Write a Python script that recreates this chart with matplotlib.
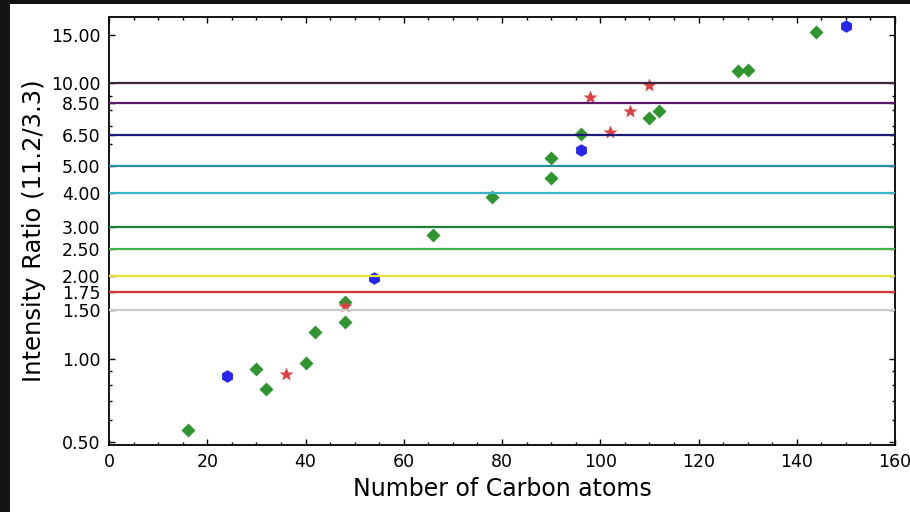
import matplotlib
matplotlib.use("Agg")
import matplotlib.pyplot as plt
from matplotlib.ticker import FormatStrFormatter, LogLocator, NullFormatter, MultipleLocator
from matplotlib.patches import Rectangle

# green diamonds
diamond_x = [16, 30, 32, 40, 42, 48, 48, 66, 78, 90, 90, 96, 110, 112, 128, 130, 144]
diamond_y = [0.55, 0.92, 0.775, 0.967, 1.25, 1.61, 1.36, 2.82, 3.86, 5.37, 4.52, 6.56, 7.47, 7.96, 11.1, 11.2, 15.3]

# blue hexagons
hex_x = [24, 54, 96, 150]
hex_y = [0.865, 1.97, 5.71, 16.1]

# red stars
star_x = [36, 48, 98, 102, 106, 110]
star_y = [0.88, 1.55, 8.9, 6.66, 7.96, 9.84]

# horizontal reference levels
levels = [1.5, 1.75, 2.0, 2.5, 3.0, 4.0, 5.0, 6.5, 8.5, 10.0]
level_colors = ['#cccccc', '#d83434', '#e6e23a', '#44b444', '#1f7f3a',
                '#3cb4c8', '#2a8c9c', '#1c1c78', '#5e1a6a', '#3e2840']

yticks = [0.5, 1.0, 1.5, 1.75, 2.0, 2.5, 3.0, 4.0, 5.0, 6.5, 8.5, 10.0, 15.0]

fig = plt.figure(figsize=(9.1, 5.12), dpi=100, facecolor='#141414')
# white page area (dark strips at top and left like the screenshot)
fig.patches.append(Rectangle((10 / 910, 0), 1, (512 - 4) / 512, transform=fig.transFigure,
                             facecolor='white', edgecolor='none', zorder=-10))

ax = fig.add_axes([109 / 910, (512 - 445) / 512, (895 - 109) / 910, (445 - 17) / 512])

ax.plot(diamond_x, diamond_y, 'D', color='#2f962f', mec='none', ms=7.5, zorder=2)
ax.plot(hex_x, hex_y, 'h', color='#2626ee', mec='none', ms=9, zorder=2)
ax.plot(star_x, star_y, '*', color='#e04040', mec='none', ms=10, zorder=2)

for lev, col in zip(levels, level_colors):
    ax.axhline(lev, color=col, lw=1.6, zorder=3)

ax.set_yscale('log')
ax.set_xlim(0, 160)
ax.set_ylim(0.486, 17.4)

ax.set_yticks(yticks)
ax.yaxis.set_major_formatter(FormatStrFormatter('%.2f'))
ax.yaxis.set_minor_locator(LogLocator(base=10, subs=range(2, 10)))
ax.yaxis.set_minor_formatter(NullFormatter())
ax.xaxis.set_major_locator(MultipleLocator(20))
ax.xaxis.set_minor_locator(MultipleLocator(5))

ax.tick_params(which='both', direction='in', top=True, right=True, labelsize=12.5, pad=6)
ax.tick_params(which='major', length=4.5, width=1)
ax.tick_params(which='minor', length=2.5, width=1)
for sp in ax.spines.values():
    sp.set_linewidth(1.3)

ax.set_xlabel("Number of Carbon atoms", fontsize=17)
ax.set_ylabel("Intensity Ratio (11.2/3.3)", fontsize=17.5)
ax.yaxis.set_label_coords(-0.08, 0.5)

fig.savefig("out.png", dpi=100, facecolor=fig.get_facecolor())
